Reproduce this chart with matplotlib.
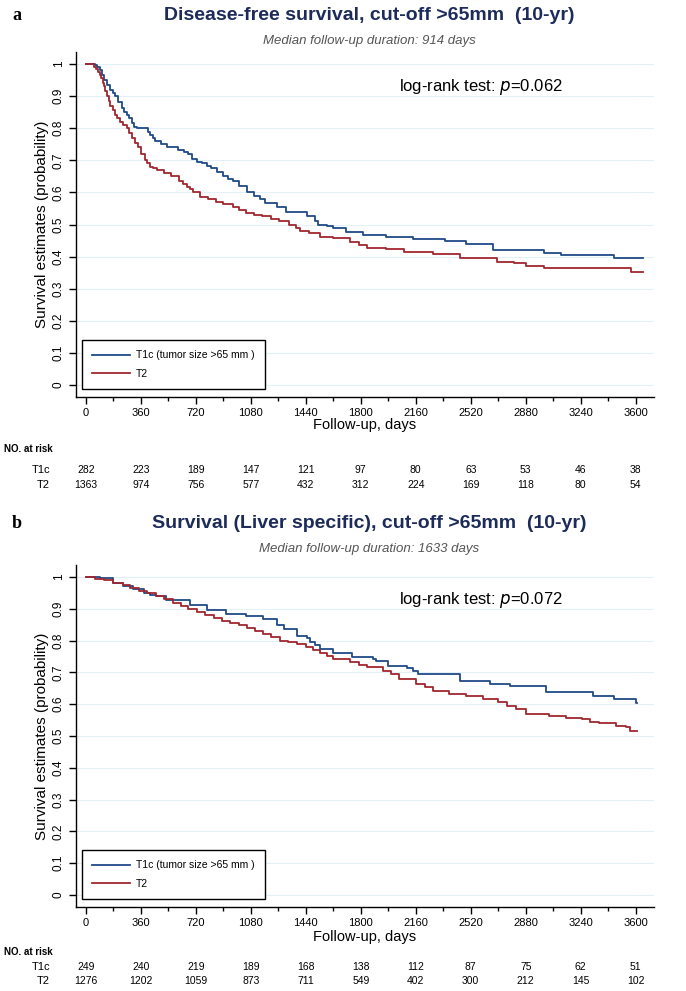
import numpy as np
import matplotlib
matplotlib.use("Agg")
import matplotlib.pyplot as plt
from matplotlib.ticker import MultipleLocator
from matplotlib.transforms import blended_transform_factory

plt.rcParams['font.family'] = ['Liberation Sans', 'DejaVu Sans']

# panel a: disease-free survival
dfs_t1c_days = [0, 60, 75, 90, 105, 120, 135, 157, 175, 190, 210, 233, 250, 266, 285, 299, 315, 332,
                408, 420, 436, 452, 490, 530, 600, 640, 670, 692, 730, 760, 790, 820, 860, 899, 930,
                960, 1000, 1052, 1100, 1140, 1170, 1250, 1310, 1445, 1500, 1520, 1580, 1620, 1705,
                1815, 1967, 2140, 2350, 2490, 2665, 3000, 3110, 3460, 3650]
dfs_t1c_surv = [1.0, 0.995, 0.99, 0.98, 0.965, 0.95, 0.935, 0.919, 0.91, 0.90, 0.88, 0.862, 0.85,
                0.841, 0.83, 0.815, 0.805, 0.80, 0.789, 0.78, 0.77, 0.76, 0.75, 0.74, 0.732, 0.726,
                0.72, 0.705, 0.695, 0.69, 0.683, 0.675, 0.662, 0.65, 0.643, 0.635, 0.62, 0.60, 0.59,
                0.58, 0.566, 0.556, 0.54, 0.527, 0.51, 0.50, 0.495, 0.49, 0.478, 0.467, 0.462, 0.455,
                0.448, 0.438, 0.421, 0.412, 0.405, 0.395, 0.395]
dfs_t2_days = [0, 50, 65, 80, 90, 100, 110, 120, 128, 135, 148, 160, 175, 190, 205, 220, 240, 266, 283,
               300, 320, 340, 362, 386, 403, 420, 440, 463, 510, 560, 610, 635, 659, 680, 700, 746,
               800, 851, 900, 960, 1000, 1047, 1100, 1156, 1210, 1265, 1330, 1374, 1400, 1462, 1530,
               1620, 1730, 1790, 1840, 1967, 2080, 2270, 2450, 2690, 2800, 2880, 3000, 3570, 3650]
dfs_t2_surv = [1.0, 0.99, 0.985, 0.975, 0.965, 0.955, 0.94, 0.93, 0.915, 0.90, 0.885, 0.87, 0.855,
               0.84, 0.83, 0.82, 0.81, 0.80, 0.785, 0.77, 0.755, 0.74, 0.72, 0.70, 0.69, 0.68, 0.675,
               0.67, 0.66, 0.65, 0.635, 0.627, 0.618, 0.61, 0.60, 0.587, 0.58, 0.571, 0.565, 0.556,
               0.545, 0.535, 0.53, 0.525, 0.518, 0.51, 0.50, 0.49, 0.481, 0.472, 0.462, 0.457, 0.446,
               0.436, 0.428, 0.425, 0.415, 0.408, 0.397, 0.384, 0.379, 0.371, 0.366, 0.353, 0.353]

# panel b: liver specific survival
liv_t1c_days = [0, 92, 180, 240, 310, 380, 420, 460, 525, 680, 790, 920, 1050, 1160, 1250, 1300, 1380,
                1445, 1470, 1500, 1530, 1620, 1740, 1880, 1900, 1980, 2100, 2140, 2175, 2450, 2645,
                2775, 3010, 3320, 3460, 3600, 3610]
liv_t1c_surv = [1.0, 0.996, 0.982, 0.972, 0.964, 0.951, 0.945, 0.94, 0.927, 0.912, 0.895, 0.885,
                0.877, 0.867, 0.85, 0.836, 0.815, 0.808, 0.795, 0.785, 0.773, 0.76, 0.75, 0.743, 0.737,
                0.721, 0.714, 0.706, 0.695, 0.672, 0.664, 0.657, 0.638, 0.627, 0.617, 0.603, 0.603]
liv_t2_days = [0, 60, 120, 180, 240, 290, 350, 400, 460, 510, 570, 620, 670, 725, 780, 840, 890, 945,
               1000, 1055, 1110, 1160, 1215, 1270, 1325, 1380, 1440, 1490, 1530, 1580, 1620, 1730, 1790,
               1840, 1945, 2000, 2050, 2160, 2220, 2270, 2380, 2490, 2600, 2700, 2760, 2815, 2880, 3035,
               3145, 3250, 3300, 3360, 3470, 3535, 3560, 3610]
liv_t2_surv = [1.0, 0.995, 0.99, 0.982, 0.975, 0.965, 0.957, 0.95, 0.94, 0.93, 0.92, 0.91, 0.90, 0.89,
               0.88, 0.87, 0.862, 0.855, 0.848, 0.84, 0.83, 0.82, 0.81, 0.80, 0.795, 0.788, 0.78, 0.77,
               0.76, 0.752, 0.742, 0.733, 0.722, 0.716, 0.706, 0.695, 0.68, 0.664, 0.655, 0.643, 0.633,
               0.627, 0.617, 0.606, 0.595, 0.586, 0.568, 0.562, 0.556, 0.552, 0.545, 0.541, 0.533, 0.528,
               0.515, 0.515]

risk_days = [0, 360, 720, 1080, 1440, 1800, 2160, 2520, 2880, 3240, 3600]
risk_a_t1c = [282, 223, 189, 147, 121, 97, 80, 63, 53, 46, 38]
risk_a_t2 = [1363, 974, 756, 577, 432, 312, 224, 169, 118, 80, 54]
risk_b_t1c = [249, 240, 219, 189, 168, 138, 112, 87, 75, 62, 51]
risk_b_t2 = [1276, 1202, 1059, 873, 711, 549, 402, 300, 212, 145, 102]

titles = ["Disease-free survival, cut-off >65mm  (10-yr)",
          "Survival (Liver specific), cut-off >65mm  (10-yr)"]
subtitles = ["Median follow-up duration: 914 days", "Median follow-up duration: 1633 days"]
pvals = ["0.062", "0.072"]
group_labels = ["T1c (tumor size >65 mm )", "T2"]

BLUE = '#1f4a87'
RED = '#a3262e'
NAVY = '#1c2b5a'
W, H = 686, 991


def fy(py):
    return 1 - py / H


fig = plt.figure(figsize=(W / 100, H / 100), dpi=100)

panels = [
    dict(box=[76, 52, 654, 397], ylim=(-0.037, 1.037), letter='a', title_y=15, sub_y=41,
         xlab_y=425, risk_y=(449, 470, 485), curves=(dfs_t1c_days, dfs_t1c_surv, dfs_t2_days, dfs_t2_surv),
         risk=(risk_a_t1c, risk_a_t2)),
    dict(box=[76, 565, 654, 907], ylim=(-0.038, 1.038), letter='b', title_y=523, sub_y=549,
         xlab_y=937, risk_y=(952, 967, 981), curves=(liv_t1c_days, liv_t1c_surv, liv_t2_days, liv_t2_surv),
         risk=(risk_b_t1c, risk_b_t2)),
]

for i, p in enumerate(panels):
    x0, y0, x1, y1 = p['box']
    ax = fig.add_axes([x0 / W, fy(y1), (x1 - x0) / W, (y1 - y0) / H])
    d1, s1, d2, s2 = p['curves']
    ax.step(d1, s1, where='post', color=BLUE, lw=1.3, label=group_labels[0])
    ax.step(d2, s2, where='post', color=RED, lw=1.3, label=group_labels[1])
    ax.set_xlim(-65, 3720)
    ax.set_ylim(*p['ylim'])
    ax.spines['top'].set_visible(False)
    ax.spines['right'].set_visible(False)
    ax.spines['left'].set_linewidth(1.0)
    ax.spines['bottom'].set_linewidth(1.0)
    ax.set_yticks(np.arange(0, 1.01, 0.1))
    ax.set_yticklabels(['0', '0.1', '0.2', '0.3', '0.4', '0.5', '0.6', '0.7', '0.8', '0.9', '1'])
    ax.xaxis.set_major_locator(MultipleLocator(360))
    ax.xaxis.set_minor_locator(MultipleLocator(180))
    ax.tick_params(axis='x', which='major', length=5, width=1, labelsize=8, pad=3)
    ax.tick_params(axis='x', which='minor', length=3, width=1)
    ax.tick_params(axis='y', length=5, width=1, labelsize=8.5, labelrotation=90, pad=3)
    for lab in ax.get_yticklabels():
        lab.set_va('center')
    ax.yaxis.grid(True, color='#e3f0f8', lw=0.8)
    ax.set_axisbelow(True)
    ax.set_ylabel("Survival estimates (probability)", fontsize=11, labelpad=3)

    leg = ax.legend(loc='lower left', bbox_to_anchor=(0.0104, 0.023), borderaxespad=0,
                    fontsize=7.5, handlelength=3.6, fancybox=False, framealpha=1,
                    edgecolor='black', borderpad=1.0, labelspacing=0.8, handletextpad=0.6)
    leg.get_frame().set_linewidth(1.0)

    ax.text(0.70, 0.928, "log-rank test: $p$=" + pvals[i],
            transform=blended_transform_factory(ax.transAxes, ax.transData),
            ha='center', va='center', fontsize=12)

    fig.text(12 / W, fy(p['title_y']), p['letter'], family='Liberation Serif', weight='bold',
             fontsize=13, ha='left', va='center')
    fig.text(369 / W, fy(p['title_y']), titles[i], weight='bold', fontsize=14, color=NAVY,
             ha='center', va='center')
    fig.text(369 / W, fy(p['sub_y']), subtitles[i], style='italic', fontsize=9.5, color='#555555',
             ha='center', va='center')
    fig.text(365 / W, fy(p['xlab_y']), "Follow-up, days", fontsize=10.5, ha='center', va='center')

    ry0, ry1, ry2 = p['risk_y']
    fig.text(4 / W, fy(ry0), "NO. at risk", fontsize=7, weight='bold', ha='left', va='center')
    fig.text(50 / W, fy(ry1), "T1c", fontsize=8, ha='right', va='center')
    fig.text(50 / W, fy(ry2), "T2", fontsize=8, ha='right', va='center')
    tr = blended_transform_factory(ax.transData, fig.transFigure)
    n1, n2 = p['risk']
    for dd, a, b in zip(risk_days, n1, n2):
        ax.text(dd, fy(ry1), str(a), transform=tr, fontsize=7.5, ha='center', va='center')
        ax.text(dd, fy(ry2), str(b), transform=tr, fontsize=7.5, ha='center', va='center')

fig.savefig("out.png", dpi=100)
